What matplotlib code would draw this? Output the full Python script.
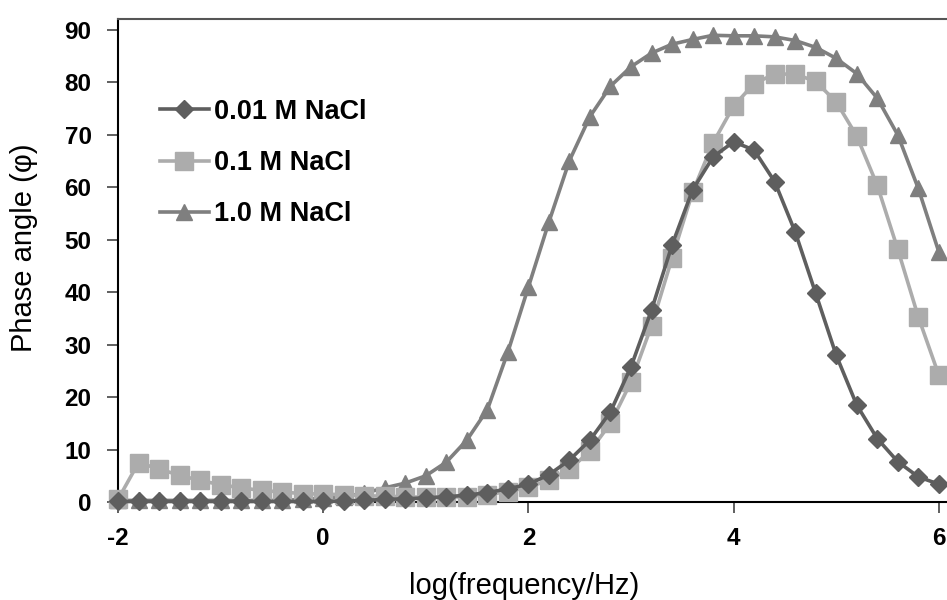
import numpy as np
import matplotlib.pyplot as plt

# log(frequency/Hz), one point every 0.2 decade
log_freq = [-2.0, -1.8, -1.6, -1.4, -1.2, -1.0, -0.8, -0.6, -0.4, -0.2,
            0.0, 0.2, 0.4, 0.6, 0.8, 1.0, 1.2, 1.4, 1.6, 1.8,
            2.0, 2.2, 2.4, 2.6, 2.8, 3.0, 3.2, 3.4, 3.6, 3.8,
            4.0, 4.2, 4.4, 4.6, 4.8, 5.0, 5.2, 5.4, 5.6, 5.8, 6.0]

phase_001 = [0.1, 0.1, 0.1, 0.1, 0.1, 0.1, 0.1, 0.1, 0.1, 0.1,
             0.1, 0.2, 0.3, 0.5, 0.6, 0.8, 1.0, 1.3, 1.8, 2.5,
             3.4, 5.2, 8.0, 11.8, 17.2, 25.8, 36.6, 49.0, 59.5, 65.8,
             68.7, 67.1, 61.1, 51.5, 39.8, 28.0, 18.5, 12.1, 7.7, 4.8, 3.4]

phase_01 = [0.5, 7.5, 6.3, 5.1, 4.1, 3.3, 2.7, 2.2, 1.9, 1.6,
            1.5, 1.4, 1.2, 1.1, 1.0, 0.9, 0.9, 1.0, 1.4, 2.0,
            2.8, 4.2, 6.2, 9.7, 15.0, 22.9, 33.6, 46.5, 59.1, 68.5,
            75.5, 79.8, 81.6, 81.6, 80.2, 76.3, 69.8, 60.4, 48.2, 35.3, 24.2]

phase_10 = [0.3, 0.3, 0.3, 0.3, 0.3, 0.3, 0.3, 0.3, 0.3, 0.5,
            0.7, 1.0, 1.7, 2.7, 3.6, 5.0, 7.6, 11.8, 17.6, 28.6,
            41.0, 53.4, 65.1, 73.5, 79.3, 83.0, 85.6, 87.3, 88.2, 89.0,
            88.9, 88.9, 88.7, 88.0, 86.7, 84.6, 81.7, 77.0, 70.0, 59.8, 47.7]

labels = ['0.01 M NaCl', '0.1 M NaCl', '1.0 M NaCl']
x_ticks = [-2, 0, 2, 4, 6]
y_ticks = [0, 10, 20, 30, 40, 50, 60, 70, 80, 90]

plt.rcParams['font.family'] = ['Liberation Sans', 'DejaVu Sans']
plt.rcParams['axes.unicode_minus'] = False

fig = plt.figure(figsize=(9.47, 6.0), dpi=100)
ax = fig.add_axes([118 / 947, 98 / 600, 829 / 947, 483 / 600])

ax.plot(log_freq, phase_001, color='#5e5e5e', lw=2.6, marker='D', ms=9,
        label=labels[0], clip_on=False, zorder=4)
ax.plot(log_freq, phase_01, color='#acacac', lw=2.6, marker='s', ms=12.5,
        label=labels[1], clip_on=False, zorder=3)
ax.plot(log_freq, phase_10, color='#7f7f7f', lw=2.6, marker='^', ms=12,
        label=labels[2], clip_on=False, zorder=2)

ax.set_xlim(-2, -2 + 829 / 102.6)
ax.set_ylim(0, 483 / 5.244)
ax.set_xticks(x_ticks)
ax.set_yticks(y_ticks)
ax.tick_params(direction='out', length=8, width=1.2, color='#444444',
               labelsize=17.5)
ax.tick_params(axis='y', pad=11)
ax.tick_params(axis='x', pad=10)
for lab in ax.get_xticklabels() + ax.get_yticklabels():
    lab.set_fontweight('bold')

ax.spines['right'].set_visible(False)
ax.spines['left'].set_linewidth(1.5)
ax.spines['bottom'].set_linewidth(1.5)
ax.spines['top'].set_linewidth(1.5)
ax.spines['top'].set_color('#555555')

ax.set_xlabel('log(frequency/Hz)', fontsize=21)
ax.set_ylabel('Phase angle (φ)', fontsize=21)
ax.xaxis.set_label_coords(0.49, -0.145)
ax.yaxis.set_label_coords(-0.096, 0.526)

leg = ax.legend(loc='upper left', bbox_to_anchor=(0.021, 0.885), frameon=False,
                numpoints=1, handlelength=1.8, handletextpad=0.22,
                labelspacing=0.93, prop={'size': 19.5, 'weight': 'bold'})

fig.savefig('out.png', dpi=100)
